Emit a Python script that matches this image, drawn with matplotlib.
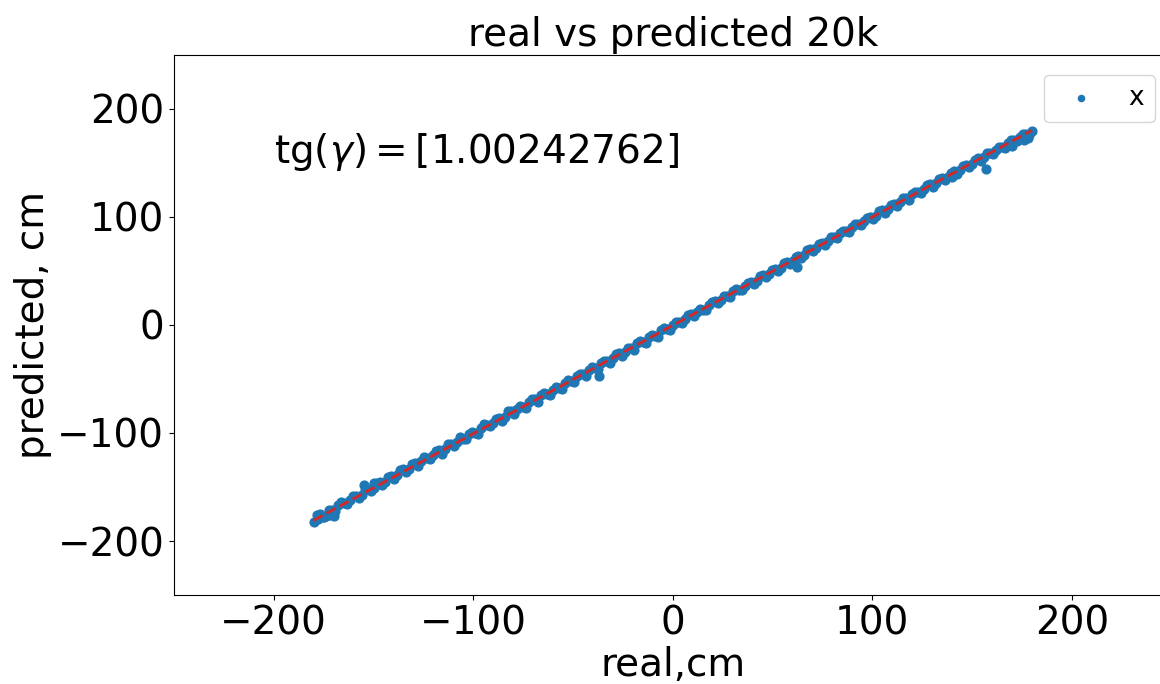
import numpy as np
import matplotlib
matplotlib.use("Agg")
import matplotlib.pyplot as plt

# real vs predicted values (cm)
real = [-180, -177, -174, -171, -168, -165, -162, -159, -156, -153,
        -150, -147, -144, -141, -138, -135, -132, -129, -126, -123,
        -120, -117, -114, -111, -108, -105, -102, -99, -96, -93,
        -90, -87, -84, -81, -78, -75, -72, -69, -66, -63,
        -60, -57, -54, -51, -48, -45, -42, -39, -36, -33,
        -30, -27, -24, -21, -18, -15, -12, -9, -6, -3,
        0, 3, 6, 9, 12, 15, 18, 21, 24, 27,
        30, 33, 36, 39, 42, 45, 48, 51, 54, 57,
        60, 63, 66, 69, 72, 75, 78, 81, 84, 87,
        90, 93, 96, 99, 102, 105, 108, 111, 114, 117,
        120, 123, 126, 129, 132, 135, 138, 141, 144, 147,
        150, 153, 156, 159, 162, 165, 168, 171, 174, 177,
        180,
        -178.5, -175.5, -172.5, -169.5, -166.5, -163.5, -160.5, -157.5, -154.5, -151.5,
        -148.5, -145.5, -142.5, -139.5, -136.5, -133.5, -130.5, -127.5, -124.5, -121.5,
        -118.5, -115.5, -112.5, -109.5, -106.5, -103.5, -100.5, -97.5, -94.5, -91.5,
        -88.5, -85.5, -82.5, -79.5, -76.5, -73.5, -70.5, -67.5, -64.5, -61.5,
        -58.5, -55.5, -52.5, -49.5, -46.5, -43.5, -40.5, -37.5, -34.5, -31.5,
        -28.5, -25.5, -22.5, -19.5, -16.5, -13.5, -10.5, -7.5, -4.5, -1.5,
        1.5, 4.5, 7.5, 10.5, 13.5, 16.5, 19.5, 22.5, 25.5, 28.5,
        31.5, 34.5, 37.5, 40.5, 43.5, 46.5, 49.5, 52.5, 55.5, 58.5,
        61.5, 64.5, 67.5, 70.5, 73.5, 76.5, 79.5, 82.5, 85.5, 88.5,
        91.5, 94.5, 97.5, 100.5, 103.5, 106.5, 109.5, 112.5, 115.5, 118.5,
        121.5, 124.5, 127.5, 130.5, 133.5, 136.5, 139.5, 142.5, 145.5, 148.5,
        151.5, 154.5, 157.5, 160.5, 163.5, 166.5, 169.5, 172.5, 175.5, 178.5,
        -178, -175, -172, -170, -155, -150, -37, 62, 157, 176, 178, 170, 140]
predicted = [-182, -175, -177, -171, -167, -165, -162, -158, -157, -152,
             -151, -145, -145, -140, -139, -133, -133, -128, -126, -123,
             -120, -116, -115, -110, -108, -106, -101, -100, -95, -93,
             -91, -86, -85, -80, -78, -76, -71, -69, -65, -64,
             -60, -58, -54, -52, -47, -45, -42, -40, -35, -33,
             -31, -26, -25, -21, -17, -16, -11, -10, -5, -4,
             0, 3, 5, 10, 12, 14, 18, 22, 23, 27,
             31, 32, 36, 40, 41, 46, 47, 52, 53, 58,
             59, 64, 65, 70, 71, 76, 78, 81, 85, 87,
             91, 93, 96, 100, 101, 106, 107, 112, 114, 117,
             121, 123, 126, 130, 131, 136, 137, 142, 143, 148,
             149, 154, 155, 159, 162, 165, 168, 171, 174, 177,
             179,
             -176, -178, -171, -172, -164, -166, -158, -160, -153, -154,
             -146, -148, -141, -143, -134, -136, -129, -131, -122, -124,
             -117, -119, -110, -112, -104, -106, -99, -101, -92, -94,
             -87, -89, -80, -82, -75, -77, -69, -71, -63, -65,
             -57, -59, -51, -53, -45, -47, -39, -41, -33, -35,
             -27, -29, -21, -23, -15, -17, -9, -11, -3, -5,
             3, 2, 9, 8, 15, 14, 21, 20, 27, 26,
             33, 32, 39, 38, 45, 44, 51, 50, 57, 56,
             63, 62, 69, 68, 75, 74, 81, 80, 87, 86,
             93, 92, 99, 98, 105, 104, 111, 110, 117, 116,
             123, 122, 129, 128, 135, 134, 141, 140, 147, 146,
             153, 152, 159, 158, 165, 164, 171, 170, 177, 176,
             -180, -178, -176, -177, -148, -146, -47, 54, 144, 171, 173, 166, 137]

slope = 1.00242762
intercept = -0.4

fig = plt.figure(figsize=(11.6, 6.84), dpi=100)
ax = fig.add_axes([0.15, 0.13, 0.86, 0.79])

ax.scatter(real, predicted, s=40, label='x')
lx = np.array([min(real), max(real)])
ax.plot(lx, slope * lx + intercept, '--', color='tab:red', lw=2)

ax.set_xlim(-250, 250)
ax.set_ylim(-250, 250)
ax.set_title('real vs predicted 20k', fontsize=28)
ax.set_xlabel('real,cm', fontsize=28, labelpad=2)
ax.set_ylabel('predicted, cm', fontsize=28)
ax.tick_params(labelsize=28)
ax.text(-200, 150, r'tg($\gamma$)$=$[%.8f]' % slope, fontsize=28)
ax.legend(loc='upper right', bbox_to_anchor=(0.983, 0.963), borderaxespad=0,
          fontsize=19, markerscale=0.7)

fig.savefig('out.png', dpi=100)
